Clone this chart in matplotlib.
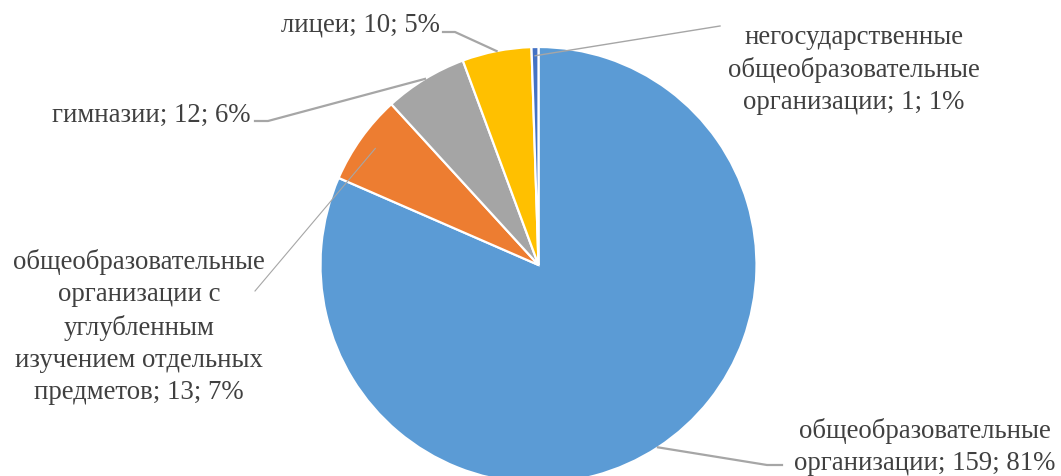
import matplotlib.pyplot as plt
import numpy as np

# данные диаграммы
names = ["общеобразовательные\nорганизации",
         "общеобразовательные\nорганизации с\nуглубленным\nизучением отдельных\nпредметов",
         "гимназии",
         "лицеи",
         "негосударственные\nобщеобразовательные\nорганизации"]
counts = [159, 13, 12, 10, 1]
pcts = [81, 7, 6, 5, 1]
colors = ["#5B9BD5", "#ED7D31", "#A5A5A5", "#FFC000", "#4472C4"]

W, H = 1061, 477
fig = plt.figure(figsize=(W / 100, H / 100), dpi=100)
ax = fig.add_axes([0, 0, 1, 1])

cx, cy, R = 538.5, H - 266, 218
wedges, _ = ax.pie(counts, colors=colors, startangle=90, counterclock=False,
                   radius=R, center=(cx, cy), frame=True,
                   wedgeprops=dict(edgecolor="white", linewidth=1.6))
ax.set_xlim(0, W)
ax.set_ylim(0, H)
ax.set_aspect("equal")
ax.axis("off")

# подписи: (x, y в пикселях сверху), выравнивание, излом линии, доля радиуса, толщина линии
lab = [
    ((925, 447), "center", [(782, 466), (767, 466)], 1.0, 1.6),
    ((139, 327), "center", [(255, 292)], 0.92, 0.8),
    ((250, 115), "right", [(255, 122), (268, 122)], 1.0, 1.6),
    ((440, 25), "right", [(443, 33), (455, 33)], 1.0, 1.6),
    ((854, 70), "center", [(720, 27)], 0.96, 1.0),
]
txt_col = "#404040"
line_col = "#A6A6A6"
for w, n, c, p, (pos, ha, pts, fr, lw) in zip(wedges, names, counts, pcts, lab):
    ang = np.deg2rad((w.theta1 + w.theta2) / 2)
    sx = cx + fr * R * np.cos(ang)
    sy = cy + fr * R * np.sin(ang)
    xs = [q[0] for q in pts] + [sx]
    ys = [H - q[1] for q in pts] + [sy]
    ax.plot(xs, ys, color=line_col, lw=lw, zorder=1)
    s = f"{n}; {c}; {p}%"
    ax.text(pos[0], H - pos[1], s, ha=ha, va="center", multialignment="center",
            fontsize=19.3, family="Liberation Serif", color=txt_col, linespacing=1.38)

fig.savefig("out.png", dpi=100)
